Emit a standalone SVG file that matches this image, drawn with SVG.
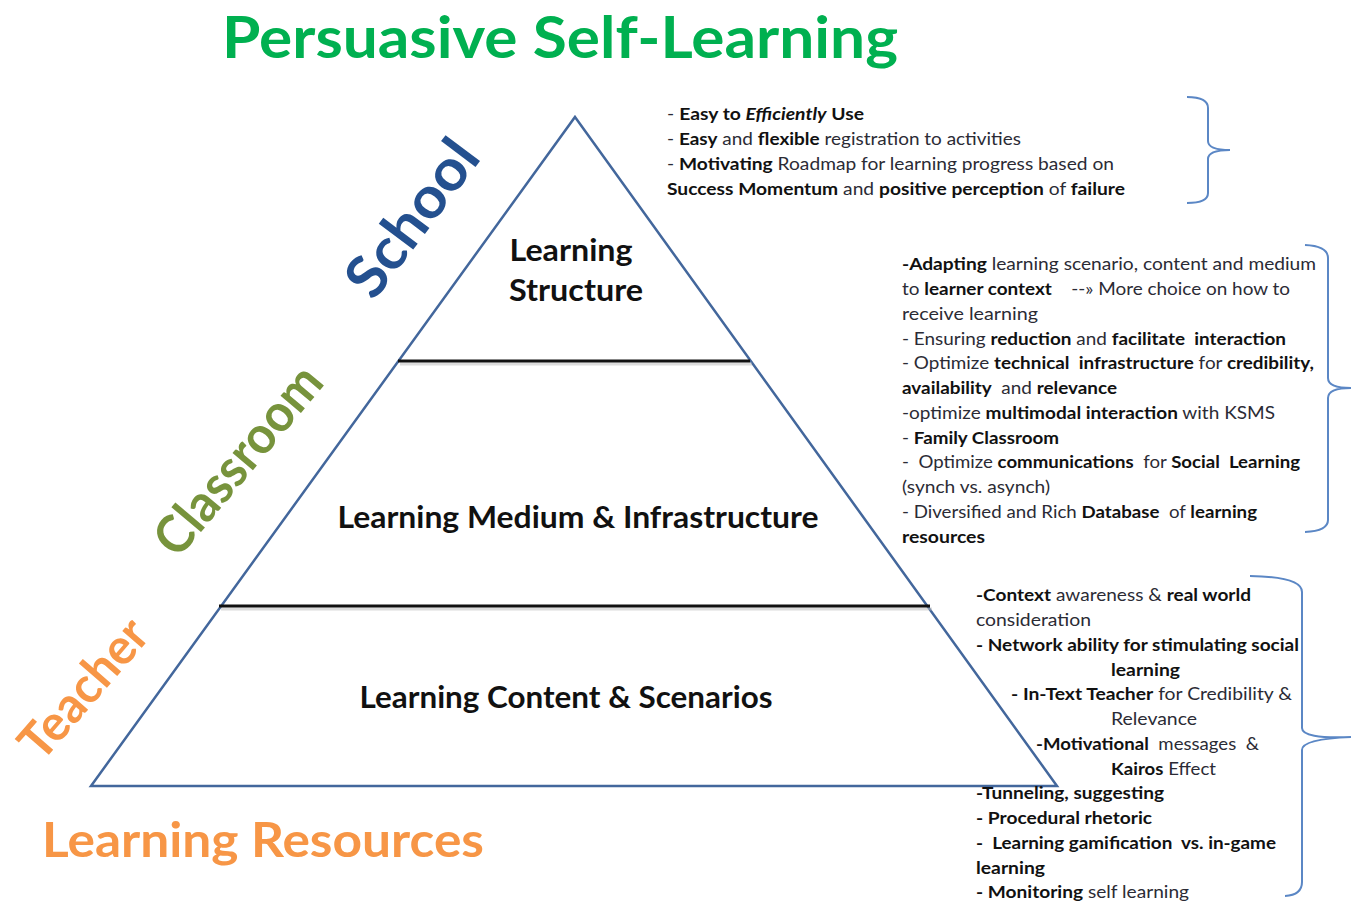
<svg xmlns="http://www.w3.org/2000/svg" width="1351" height="903" viewBox="0 0 1351 903">
<style>
text{font-family:Lato,"Open Sans","Liberation Sans",sans-serif;white-space:pre}
.note{font-size:17px;fill:#2b2b35}
.b{font-weight:bold;fill:#111}
.lbl{font-size:31px;font-weight:bold;fill:#111;text-anchor:middle}
.tri{fill:none;stroke:#43679c;stroke-width:2.5;stroke-linejoin:miter}
.sep{stroke:#111;stroke-width:3}
.sh{stroke:#bbb;stroke-width:3;opacity:0.5}
.brace{fill:none;stroke:#5b87c5;stroke-width:2}
</style>
<rect width="1351" height="903" fill="#fff"/>
<g id="title"><text x="222" y="58" font-size="58" font-weight="bold" fill="#00b050" textLength="676" lengthAdjust="spacingAndGlyphs">Persuasive Self-Learning</text></g>
<g id="pyramid">
<polygon class="tri" points="575,117 1057,786 91,786"/>
<line class="sh" x1="400" y1="364" x2="752" y2="364"/>
<line class="sep" x1="398" y1="361" x2="750" y2="361"/>
<line class="sh" x1="221" y1="609" x2="932" y2="609"/>
<line class="sep" x1="219" y1="606" x2="930" y2="606"/>
</g>
<g id="tier-structure">
<text class="lbl" x="571" y="261" textLength="123" lengthAdjust="spacingAndGlyphs">Learning</text>
<text class="lbl" x="576" y="301" textLength="134" lengthAdjust="spacingAndGlyphs">Structure</text>
</g>
<g id="tier-medium"><text class="lbl" x="578" y="528" textLength="481" lengthAdjust="spacingAndGlyphs">Learning Medium &amp; Infrastructure</text></g>
<g id="tier-content"><text class="lbl" x="566" y="708" textLength="413" lengthAdjust="spacingAndGlyphs">Learning Content &amp; Scenarios</text></g>
<g id="side-labels">
<text transform="translate(412,218) rotate(-53)" x="0" y="20" font-size="58" font-weight="bold" fill="#24508f" text-anchor="middle" textLength="180" lengthAdjust="spacingAndGlyphs">School</text>
<text transform="translate(238,460) rotate(-50)" x="0" y="18" font-size="52" font-weight="bold" fill="#77933c" text-anchor="middle" textLength="230" lengthAdjust="spacingAndGlyphs">Classroom</text>
<text transform="translate(83,688) rotate(-49)" x="0" y="18" font-size="50" font-weight="bold" fill="#f79646" text-anchor="middle" textLength="168" lengthAdjust="spacingAndGlyphs">Teacher</text>
<text x="42" y="857" font-size="48" font-weight="bold" fill="#f79646" textLength="442" lengthAdjust="spacingAndGlyphs">Learning Resources</text>
</g>
<g id="notes-school">
<text class="note" x="667" y="120" textLength="197" lengthAdjust="spacingAndGlyphs"><tspan>- </tspan><tspan class="b">Easy to </tspan><tspan class="b" font-style="italic">Efficiently</tspan><tspan class="b"> Use</tspan></text>
<text class="note" x="667" y="145" textLength="354" lengthAdjust="spacingAndGlyphs"><tspan>- </tspan><tspan class="b">Easy</tspan><tspan> and </tspan><tspan class="b">flexible</tspan><tspan> registration to activities</tspan></text>
<text class="note" x="667" y="170" textLength="447" lengthAdjust="spacingAndGlyphs"><tspan>- </tspan><tspan class="b">Motivating</tspan><tspan> Roadmap for learning progress based on</tspan></text>
<text class="note" x="667" y="195" textLength="458" lengthAdjust="spacingAndGlyphs"><tspan class="b">Success Momentum</tspan><tspan> and </tspan><tspan class="b">positive perception</tspan><tspan> of </tspan><tspan class="b">failure</tspan></text>
</g>
<g id="notes-classroom">
<text class="note" x="902" y="270" textLength="414" lengthAdjust="spacingAndGlyphs"><tspan class="b">-Adapting</tspan><tspan> learning scenario, content and medium</tspan></text>
<text class="note" x="902" y="295" textLength="388" lengthAdjust="spacingAndGlyphs"><tspan>to </tspan><tspan class="b">learner context</tspan><tspan>    --» More choice on how to</tspan></text>
<text class="note" x="902" y="320" textLength="136" lengthAdjust="spacingAndGlyphs">receive learning</text>
<text class="note" x="902" y="345" textLength="384" lengthAdjust="spacingAndGlyphs"><tspan>- Ensuring </tspan><tspan class="b">reduction</tspan><tspan> and </tspan><tspan class="b">facilitate  interaction</tspan></text>
<text class="note" x="902" y="369" textLength="412" lengthAdjust="spacingAndGlyphs"><tspan>- Optimize </tspan><tspan class="b">technical  infrastructure</tspan><tspan> for </tspan><tspan class="b">credibility,</tspan></text>
<text class="note" x="902" y="394" textLength="215" lengthAdjust="spacingAndGlyphs"><tspan class="b">availability</tspan><tspan>  and </tspan><tspan class="b">relevance</tspan></text>
<text class="note" x="902" y="419" textLength="373" lengthAdjust="spacingAndGlyphs"><tspan>-optimize </tspan><tspan class="b">multimodal interaction</tspan><tspan> with KSMS</tspan></text>
<text class="note" x="902" y="444" textLength="157" lengthAdjust="spacingAndGlyphs"><tspan>- </tspan><tspan class="b">Family Classroom</tspan></text>
<text class="note" x="902" y="468" textLength="398" lengthAdjust="spacingAndGlyphs"><tspan>-  Optimize </tspan><tspan class="b">communications</tspan><tspan>  for </tspan><tspan class="b">Social  Learning</tspan></text>
<text class="note" x="902" y="493" textLength="148" lengthAdjust="spacingAndGlyphs">(synch vs. asynch)</text>
<text class="note" x="902" y="518" textLength="355" lengthAdjust="spacingAndGlyphs"><tspan>- Diversified and Rich </tspan><tspan class="b">Database</tspan><tspan>  of </tspan><tspan class="b">learning</tspan></text>
<text class="note b" x="902" y="543" textLength="83" lengthAdjust="spacingAndGlyphs">resources</text>
</g>
<g id="notes-teacher">
<text class="note" x="976" y="601" textLength="275" lengthAdjust="spacingAndGlyphs"><tspan class="b">-Context</tspan><tspan> awareness &amp; </tspan><tspan class="b">real world</tspan></text>
<text class="note" x="976" y="626" textLength="115" lengthAdjust="spacingAndGlyphs">consideration</text>
<text class="note b" x="976" y="651" textLength="323" lengthAdjust="spacingAndGlyphs">- Network ability for stimulating social</text>
<text class="note b" x="1111" y="676" textLength="69" lengthAdjust="spacingAndGlyphs">learning</text>
<text class="note" x="1011" y="700" textLength="281" lengthAdjust="spacingAndGlyphs"><tspan class="b">- In-Text Teacher</tspan><tspan> for Credibility &amp;</tspan></text>
<text class="note" x="1111" y="725" textLength="86" lengthAdjust="spacingAndGlyphs">Relevance</text>
<text class="note" x="1036" y="750" textLength="223" lengthAdjust="spacingAndGlyphs"><tspan class="b">-Motivational</tspan><tspan>  messages  &amp;</tspan></text>
<text class="note" x="1111" y="775" textLength="105" lengthAdjust="spacingAndGlyphs"><tspan class="b">Kairos</tspan><tspan> Effect</tspan></text>
<text class="note b" x="976" y="799" textLength="188" lengthAdjust="spacingAndGlyphs">-Tunneling, suggesting</text>
<text class="note b" x="976" y="824" textLength="176" lengthAdjust="spacingAndGlyphs">- Procedural rhetoric</text>
<text class="note b" x="976" y="849" textLength="300" lengthAdjust="spacingAndGlyphs">-  Learning gamification  vs. in-game</text>
<text class="note b" x="976" y="874" textLength="69" lengthAdjust="spacingAndGlyphs">learning</text>
<text class="note" x="976" y="898" textLength="213" lengthAdjust="spacingAndGlyphs"><tspan class="b">- Monitoring</tspan><tspan> self learning</tspan></text>
</g>
<g id="connectors">
<path class="brace" d="M1187,97 Q1208,97 1208,108 L1208,141 Q1208,150 1230,150 Q1208,150 1208,159 L1208,193 Q1208,203 1187,203"/>
<path class="brace" d="M1305,245 Q1328,246 1328,258 L1328,378 Q1328,388 1351,388 Q1328,388 1328,398 L1328,520 Q1328,531 1305,532"/>
<path class="brace" d="M1250,576 Q1302,577 1302,592 L1302,728 Q1302,739 1351,737 Q1302,739 1302,750 L1302,882 Q1302,895 1285,896"/>
</g>
</svg>
